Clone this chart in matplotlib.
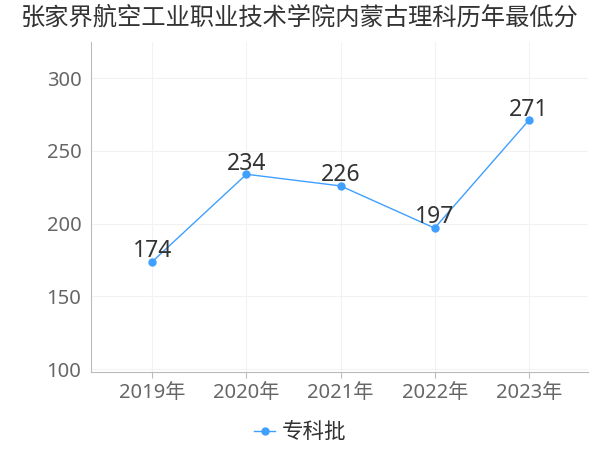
import matplotlib
matplotlib.use('Agg')
import matplotlib.pyplot as plt

plt.rcParams['font.family'] = ['Noto Sans', 'Noto Sans CJK SC', 'DejaVu Sans']

years = ['2019年', '2020年', '2021年', '2022年', '2023年']
scores = [174, 234, 226, 197, 271]
series_name = '专科批'
title = '张家界航空工业职业技术学院内蒙古理科历年最低分'

fig = plt.figure(figsize=(6, 4.5), dpi=100)
ax = fig.add_axes([0.152, 0.173, 0.828, 0.734])

x = list(range(len(years)))
ax.plot(x, scores, color='#3fa0ff', linewidth=1, marker='o', markersize=5,
        label=series_name, zorder=3)

for xi, v in zip(x, scores):
    ax.annotate(str(v), (xi, v), xytext=(0, -1), textcoords='offset points',
                ha='center', va='bottom', fontsize=16.5, color='#333333')

ax.set_xlim(-0.65, 4.63)
ax.set_ylim(98, 325)
ax.set_yticks([100, 150, 200, 250, 300])
ax.set_xticks(x)
ax.set_xticklabels(years)

ax.grid(True, color='#f2f2f2', linewidth=0.8)
ax.set_axisbelow(True)
for s in ['top', 'right']:
    ax.spines[s].set_visible(False)
ax.spines['left'].set_color('#bbbbbb')
ax.spines['bottom'].set_color('#bbbbbb')
ax.tick_params(axis='x', colors='#bbbbbb', labelcolor='#666666', labelsize=14.5, length=4)
ax.tick_params(axis='y', length=0, labelcolor='#666666', labelsize=14.5, pad=7)

fig.text(0.5, 0.958, title, ha='center', va='center', fontsize=17.5, color='#333333')

fig.legend(loc='center', bbox_to_anchor=(0.5, 0.038), frameon=False,
           fontsize=15.5, handlelength=1.0, handletextpad=0.3,
           labelcolor='#333333')

fig.savefig('out.png', dpi=100)
